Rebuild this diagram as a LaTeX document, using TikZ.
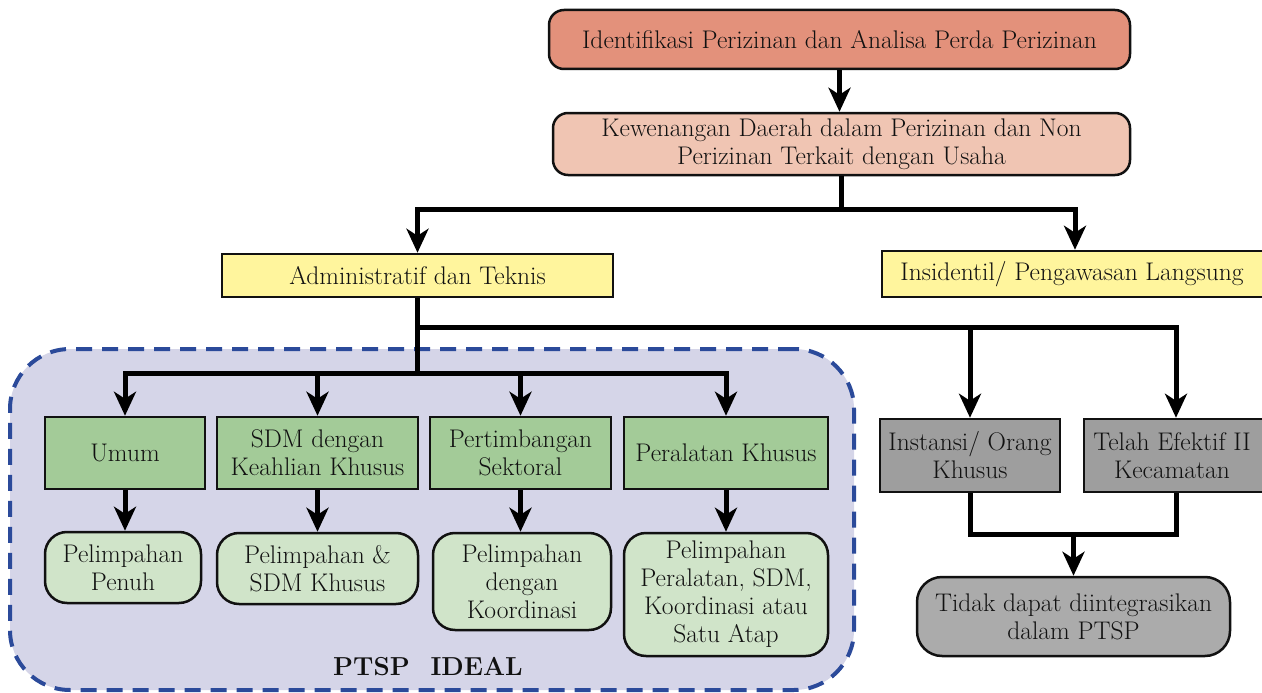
\documentclass[tikz,border=0pt]{standalone}
\usepackage{fontspec}
\usetikzlibrary{arrows.meta}
\definecolor{salmon}{HTML}{E3917B}
\definecolor{peach}{HTML}{F0C5B3}
\definecolor{paleyellow}{HTML}{FFF59D}
\definecolor{midgreen}{HTML}{A3CB98}
\definecolor{lightgreen}{HTML}{D0E4C9}
\definecolor{midgray}{HTML}{9E9E9E}
\definecolor{lightgray2}{HTML}{ABABAB}
\definecolor{lavender}{HTML}{D5D5E8}
\definecolor{dashblue}{HTML}{2B4A9A}
\definecolor{ink}{HTML}{111111}
\begin{document}
\begin{tikzpicture}[x=1pt,y=-1pt,
  every node/.style={font=\fontsize{25.5}{28}\selectfont, text=ink, align=center, inner sep=0pt},
  box/.style={draw=ink, line width=2.5pt},
  roundbox/.style={box, rounded corners=#1},
  roundbox/.default=22pt,
  wire/.style={line width=5pt, draw=black},
  conn/.style={wire, -{Stealth[length=24pt,width=22pt,inset=7pt]}},
  region/.style={draw=dashblue, fill=lavender, line width=4pt,
    dash pattern=on 16pt off 10pt, rounded corners=60pt}
]
\useasboundingbox (0,0) rectangle (1262,693);
\begin{scope}
\clip (0,0) rectangle (1262,693);

% PTSP ideal region
\node[region, minimum width=844pt, minimum height=341pt] (ptsp) at (432,519.5) {};
\node[font=\fontsize{26}{30}\selectfont\bfseries] (ideal) at (428,667) {PTSP\hspace{0.8em}IDEAL};

% top chain
\node[roundbox=15pt, fill=salmon, minimum width=581pt, minimum height=59pt] (top) at (839.5,39.5)
  {Identifikasi Perizinan dan Analisa Perda Perizinan};
\node[roundbox=15pt, fill=peach, minimum width=577pt, minimum height=62pt] (kew) at (841.5,144)
  {Kewenangan Daerah dalam Perizinan dan Non\\Perizinan Terkait dengan Usaha};

% second level
\node[box, fill=paleyellow, minimum width=391pt, minimum height=43pt] (admin) at (417.5,275.5)
  {Administratif dan Teknis};
\node[box, fill=paleyellow, minimum width=386pt, minimum height=46pt] (insid) at (1075,274)
  {\hspace{-6pt}Insidentil/ Pengawasan Langsung};

% green categories
\node[box, fill=midgreen, minimum width=160pt, minimum height=72pt] (umum) at (125,453) {Umum};
\node[box, fill=midgreen, minimum width=201pt, minimum height=72pt] (sdm) at (317.5,453)
  {SDM dengan\\Keahlian Khusus};
\node[box, fill=midgreen, minimum width=181pt, minimum height=72pt] (pert) at (520.5,453)
  {Pertimbangan\\Sektoral};
\node[box, fill=midgreen, minimum width=204pt, minimum height=72pt] (peral) at (726,453)
  {Peralatan Khusus};

% outcomes
\node[roundbox, fill=lightgreen, minimum width=156pt, minimum height=71pt] (pA) at (123,567.5)
  {Pelimpahan\\Penuh};
\node[roundbox, fill=lightgreen, minimum width=201pt, minimum height=71pt] (pB) at (317.5,568.5)
  {Pelimpahan \&\\SDM Khusus};
\node[roundbox, fill=lightgreen, minimum width=178pt, minimum height=97pt] (pC) at (522,581.5)
  {Pelimpahan\\dengan\\Koordinasi};
\node[roundbox, fill=lightgreen, minimum width=204pt, minimum height=123pt] (pD) at (726,594.5)
  {Pelimpahan\\Peralatan, SDM,\\Koordinasi atau\\Satu Atap};

% gray branch
\node[box, fill=midgray, minimum width=180pt, minimum height=73pt] (inst) at (970,455.5)
  {Instansi/ Orang\\Khusus};
\node[box, fill=midgray, minimum width=184pt, minimum height=73pt] (telah) at (1176,455.5)
  {\hspace{-8pt}Telah Efektif II\\\hspace{-8pt}Kecamatan};
\node[roundbox=25pt, fill=lightgray2, minimum width=313pt, minimum height=79pt] (tidak) at (1073.5,616.5)
  {Tidak dapat diintegrasikan\\dalam PTSP};

% junction points
\path (kew.south) ++(0,33) coordinate (j1);
\path (admin.south) ++(0,29) coordinate (j2);
\path (admin.south) ++(0,75) coordinate (j3);
\path (inst.south) ++(0,41) coordinate (j4);

% connectors
\draw[conn] (top.south) -- (top.south |- kew.north);
\draw[conn] (kew.south) -- (j1) -| (admin.north);
\draw[conn] (j1) -| (insid.north);
\draw[wire] (admin.south) -- (j3);
\draw[conn] (j2) -| (inst.north);
\draw[conn] (j2) -| (telah.north);
\draw[conn] (j3) -| (umum.north);
\draw[conn] (j3) -| (sdm.north);
\draw[conn] (j3) -| (pert.north);
\draw[conn] (j3) -| (peral.north);
\draw[conn] (umum) -- (pA.north -| umum.south);
\draw[conn] (sdm) -- (pB);
\draw[conn] (pert.south) -- (pC.north -| pert.south);
\draw[conn] (peral) -- (pD);
\draw[wire] (inst.south) -- (j4) -| (telah.south);
\draw[conn] (j4 -| tidak.north) -- (tidak.north);
\end{scope}
\end{tikzpicture}
\end{document}
